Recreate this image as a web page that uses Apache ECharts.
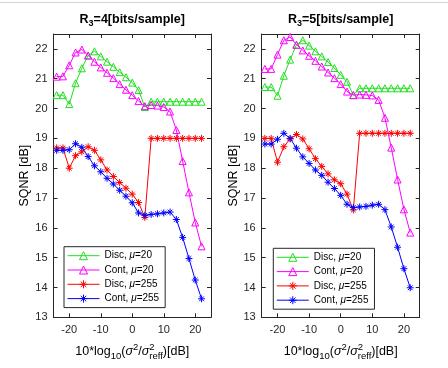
<!DOCTYPE html>
<html>
<head>
<meta charset="utf-8">
<script src="https://cdn.jsdelivr.net/npm/echarts@6/dist/echarts.min.js"></script>
<style>
html, body { margin: 0; padding: 0; background: #fff; }
#chart { width: 448px; height: 368px; }
</style>
</head>
<body>
<div id="chart"></div>
<script>
/* SQNR vs. input level, two bit rates, MATLAB-style panels */

const xDb = [-24, -22, -20, -18, -16, -14, -12, -10, -8, -6, -4, -2, 0, 2, 4, 6, 8, 10, 12, 14, 16, 18, 20, 22];

// R3 = 4 bits/sample
const discMu20R4 = [20.45, 20.45, 20.15, 20.85, 21.35, 21.78, 21.92, 21.75, 21.57, 21.4, 21.22, 21.05, 20.87, 20.62, 20.05,
  20.23, 20.23, 20.23, 20.23, 20.23, 20.23, 20.23, 20.23, 20.23];
const contMu20R4 = [21.07, 21.08, 21.45, 21.88, 21.98, 21.78, 21.57, 21.38, 21.2, 21.02, 20.82, 20.63, 20.45, 20.25, 20.08,
  20.12, 20.1, 20.05, 19.9, 19.28, 18.24, 17.19, 16.18, 15.38];
const discMu255R4 = [18.68, 18.68, 18.0, 18.42, 18.55, 18.72, 18.6, 18.28, 17.94, 17.72, 17.52, 17.33, 17.13, 16.85, 16.35,
  19.0, 19.0, 19.0, 19.0, 19.0, 19.0, 19.0, 19.0, 19.0];
const contMu255R4 = [18.6, 18.6, 18.62, 18.82, 18.7, 18.39, 18.08, 17.88, 17.66, 17.47, 17.26, 17.06, 16.84, 16.5, 16.42,
  16.45, 16.47, 16.5, 16.53, 16.28, 15.68, 14.97, 14.25, 13.62];

// R3 = 5 bits/sample
const discMu20R5 = [20.72, 20.72, 20.43, 21.1, 21.64, 22.14, 22.29, 22.11, 21.92, 21.75, 21.56, 21.36, 21.13, 20.9, 20.45,
  20.68, 20.68, 20.68, 20.68, 20.68, 20.68, 20.68, 20.68, 20.68];
const contMu20R5 = [21.33, 21.33, 21.81, 22.29, 22.4, 22.14, 21.95, 21.77, 21.6, 21.41, 21.21, 21.02, 20.82, 20.57, 20.45,
  20.47, 20.46, 20.44, 20.29, 19.69, 18.69, 17.62, 16.62, 15.84];
const discMu255R5 = [19.0, 19.0, 18.2, 18.72, 18.98, 19.13, 18.98, 18.65, 18.32, 18.06, 17.81, 17.61, 17.48, 17.13, 16.6,
  19.17, 19.17, 19.17, 19.17, 19.17, 19.17, 19.17, 19.17, 19.17];
const contMu255R5 = [18.81, 18.81, 18.97, 19.17, 19.0, 18.67, 18.38, 18.16, 17.94, 17.76, 17.53, 17.32, 17.09, 16.79, 16.68,
  16.7, 16.72, 16.76, 16.79, 16.61, 16.03, 15.35, 14.63, 13.99];

const seriesNames = ['Disc, μ=20', 'Cont, μ=20', 'Disc, μ=255', 'Cont, μ=255'];
const panelTitles = ['4', '5'];

const FONT = '"Liberation Sans", Arial, Helvetica, sans-serif';
const INK = '#262626';
const GREEN = '#1fe01f', MAGENTA = '#ff00ff', RED = '#ff0000', BLUE = '#0000ff';
const STAR = 'path://M5,0L5,10M0,5L10,5M1.6,1.6L8.4,8.4M1.6,8.4L8.4,1.6';

const grids = [
  { left: 53.5, top: 34, width: 157.5, height: 283.3 },
  { left: 261.7, top: 34, width: 158, height: 283.3 },
];

function xAxes(g) {
  const base = {
    gridIndex: g, type: 'value', min: -25, max: 25,
    splitLine: { show: false },
    axisLine: { show: true, onZero: false, lineStyle: { color: INK, width: 1 } },
    axisTick: { show: true, inside: true, length: 4, lineStyle: { color: INK } },
  };
  return [
    { ...base, position: 'bottom',
      axisLabel: { margin: 7, color: INK, fontSize: 11, fontFamily: FONT, showMinLabel: false, showMaxLabel: false } },
    { ...base, position: 'top', axisLabel: { show: false } },
  ];
}

function yAxes(g) {
  const base = {
    gridIndex: g, type: 'value', min: 13, max: 22.5, interval: 1,
    splitLine: { show: false },
    axisLine: { show: true, onZero: false, lineStyle: { color: INK, width: 1 } },
    axisTick: { show: true, inside: true, length: 4, lineStyle: { color: INK } },
  };
  return [
    { ...base, position: 'left',
      name: 'SQNR [dB]', nameLocation: 'middle', nameGap: 22,
      nameTextStyle: { fontSize: 12.5, color: '#000', fontFamily: FONT },
      axisLabel: { margin: 6, color: INK, fontSize: 11, fontFamily: FONT, showMaxLabel: false,
        formatter: v => Number.isInteger(v) ? String(v) : '' } },
    { ...base, position: 'right', axisLabel: { show: false } },
  ];
}

function lineSeries(name, values, g, color, symbol) {
  return {
    name, type: 'line', xAxisIndex: g * 2, yAxisIndex: g * 2,
    data: xDb.map((x, i) => [x, values[i]]),
    symbol, symbolSize: 7, showAllSymbol: true,
    lineStyle: { color, width: 1 },
    itemStyle: { color: 'rgba(255,255,255,0)', borderColor: color, borderWidth: 1 },
    emphasis: { disabled: true },
    animation: false,
  };
}

// sub/superscript text laid out piece by piece
const measureCtx = document.createElement('canvas').getContext('2d');
function pieceFont(p) {
  return (p.italic ? 'italic ' : '') + (p.bold ? 'bold ' : '') + p.size + 'px ' + FONT;
}
function richLine(pieces, cx, baseY) {
  const widths = pieces.map(p => { measureCtx.font = pieceFont(p); return measureCtx.measureText(p.t).width; });
  const pos = [];
  let x = 0;
  pieces.forEach((p, i) => {
    if (p.stack) {
      pos.push(pos[i - 1]);
      x = pos[i - 1] + Math.max(widths[i], widths[i - 1]);
    } else {
      pos.push(x);
      x += widths[i];
    }
  });
  const start = cx - x / 2;
  return pieces.map((p, i) => ({
    type: 'text', silent: true,
    x: start + pos[i], y: baseY - 0.35 * p.size + (p.dy || 0),
    style: {
      text: p.t, fill: '#000', align: 'left', verticalAlign: 'middle',
      fontSize: p.size, fontFamily: FONT,
      fontWeight: p.bold ? 'bold' : 'normal', fontStyle: p.italic ? 'italic' : 'normal',
    },
  }));
}

function titlePieces(r) {
  return [
    { t: 'R', size: 12.5, bold: true },
    { t: '3', size: 9, bold: true, dy: 3.5 },
    { t: '=' + r + '[bits/sample]', size: 12.5, bold: true },
  ];
}
const xTitlePieces = [
  { t: '10*log', size: 12.5 },
  { t: '10', size: 9.5, dy: 4.5 },
  { t: '(', size: 12.5 },
  { t: 'σ', size: 12.5, italic: true },
  { t: '2', size: 9.5, dy: -5 },
  { t: '/', size: 12.5 },
  { t: 'σ', size: 12.5, italic: true },
  { t: '2', size: 9.5, dy: -5 },
  { t: 'reff', size: 9.5, dy: 4.5, stack: true },
  { t: ')[dB]', size: 12.5 },
];

const centers = grids.map(g => g.left + g.width / 2);

const legendBase = {
  orient: 'vertical', data: seriesNames, selectedMode: false,
  backgroundColor: '#fff', borderColor: INK, borderWidth: 1,
  padding: [4, 6, 4, 3], itemWidth: 32, itemHeight: 10, itemGap: 4.3,
  itemStyle: { color: 'rgba(255,255,255,0)', borderWidth: 1 },
  lineStyle: { width: 1 },
  textStyle: { fontSize: 10, color: '#000', fontFamily: FONT,
    rich: { i: { fontStyle: 'italic', fontSize: 10, fontFamily: FONT, color: '#000' } } },
  formatter: n => n.replace('μ', '{i|μ}'),
};

const chart = echarts.init(document.getElementById('chart'), null, { renderer: 'canvas' });
chart.setOption({
  backgroundColor: '#fff',
  animation: false,
  grid: grids,
  xAxis: [...xAxes(0), ...xAxes(1)],
  yAxis: [...yAxes(0), ...yAxes(1)],
  legend: [
    { ...legendBase, left: 64, top: 246.7 },
    { ...legendBase, left: 273.3, top: 248.3 },
  ],
  series: [
    lineSeries(seriesNames[0], discMu20R4, 0, GREEN, 'triangle'),
    lineSeries(seriesNames[1], contMu20R4, 0, MAGENTA, 'triangle'),
    lineSeries(seriesNames[2], discMu255R4, 0, RED, STAR),
    lineSeries(seriesNames[3], contMu255R4, 0, BLUE, STAR),
    lineSeries(seriesNames[0], discMu20R5, 1, GREEN, 'triangle'),
    lineSeries(seriesNames[1], contMu20R5, 1, MAGENTA, 'triangle'),
    lineSeries(seriesNames[2], discMu255R5, 1, RED, STAR),
    lineSeries(seriesNames[3], contMu255R5, 1, BLUE, STAR),
  ],
  graphic: [
    { type: 'line', silent: true, shape: { x1: 0, y1: 2.5, x2: 448, y2: 2.5 }, style: { stroke: '#d4d4d4', lineWidth: 1 } },
    ...richLine(titlePieces(panelTitles[0]), centers[0], 23.5),
    ...richLine(titlePieces(panelTitles[1]), centers[1], 23.5),
    ...richLine(xTitlePieces, centers[0], 355.5),
    ...richLine(xTitlePieces, centers[1], 355.5),
  ],
});
</script>
</body>
</html>
